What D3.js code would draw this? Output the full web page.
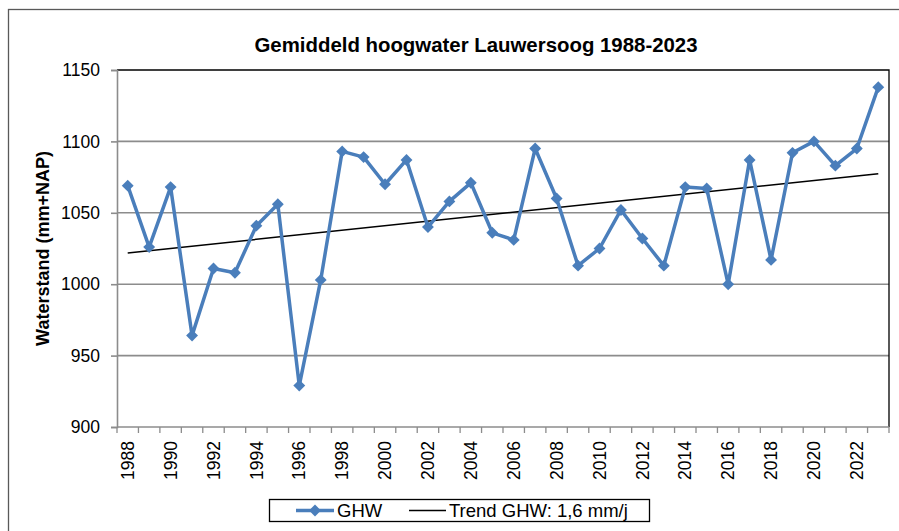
<!DOCTYPE html>
<html>
<head>
<meta charset="utf-8">
<script src="https://cdn.jsdelivr.net/npm/d3@7/dist/d3.min.js"></script>
<style>
  body { margin: 0; background: #fff; }
  svg { display: block; font-family: Arial, "Liberation Sans", sans-serif; }
</style>
</head>
<body>
<div id="chart"></div>
<script>
// gemiddeld hoogwater per jaar, mm t.o.v. NAP
var years = d3.range(1988, 2024);
var ghw = [1069, 1026, 1068, 964, 1011, 1008, 1041, 1056, 929, 1003,
           1093, 1089, 1070, 1087, 1040, 1058, 1071, 1036, 1031, 1095,
           1060, 1013, 1025, 1052, 1032, 1013, 1068, 1067, 1000, 1087,
           1017, 1092, 1100, 1083, 1095, 1138];
var yTicks = [900, 950, 1000, 1050, 1100, 1150];
var xLabels = years.filter(function(y) { return (y - 1988) % 2 === 0; });

var width = 899, height = 531;
var plot = { left: 117, right: 889, top: 70, bottom: 427 };

var svg = d3.select("#chart").append("svg")
  .attr("width", width)
  .attr("height", height);

// chart area border (runs off the picture on the right and bottom)
svg.append("rect")
  .attr("x", 8.5).attr("y", 9.5)
  .attr("width", 1000).attr("height", 600)
  .attr("fill", "none")
  .attr("stroke", "#595959")
  .attr("stroke-width", 1.3);

var x = d3.scaleBand()
  .domain(years)
  .range([plot.left, plot.right]);

var y = d3.scaleLinear()
  .domain([900, 1150])
  .range([plot.bottom, plot.top]);

// gridlines
svg.append("g").selectAll("line")
  .data(yTicks.slice(1, -1))
  .enter().append("line")
  .attr("x1", plot.left).attr("x2", plot.right)
  .attr("y1", function(d) { return y(d); })
  .attr("y2", function(d) { return y(d); })
  .attr("stroke", "#8c8c8c")
  .attr("stroke-width", 1.6);

// plot area frame top/right
svg.append("path")
  .attr("d", "M" + plot.left + "," + y(1150) + "H" + plot.right + "V" + plot.bottom)
  .attr("fill", "none")
  .attr("stroke", "#000")
  .attr("stroke-width", 1.3);

// y axis
var yAxis = svg.append("g")
  .attr("transform", "translate(" + plot.left + ",0)")
  .call(d3.axisLeft(y).tickValues(yTicks).tickFormat(d3.format("d")).tickSize(6).tickPadding(11));
yAxis.select(".domain").attr("stroke", "#8c8c8c").attr("stroke-width", 1.6);
yAxis.selectAll(".tick line").attr("stroke", "#8c8c8c").attr("stroke-width", 1.6);
yAxis.selectAll("text")
  .attr("font-size", "17.5px")
  .attr("fill", "#000");

// x axis: ticks between categories
svg.append("line")
  .attr("x1", plot.left).attr("x2", plot.right)
  .attr("y1", plot.bottom).attr("y2", plot.bottom)
  .attr("stroke", "#8c8c8c")
  .attr("stroke-width", 1.6);

var bounds = years.map(function(d) { return x(d); }).concat([x(years[years.length - 1]) + x.bandwidth()]);
svg.append("g").selectAll("line")
  .data(bounds)
  .enter().append("line")
  .attr("x1", function(d) { return d; })
  .attr("x2", function(d) { return d; })
  .attr("y1", plot.bottom)
  .attr("y2", plot.bottom + 6)
  .attr("stroke", "#8c8c8c")
  .attr("stroke-width", 1.3);

svg.append("g").selectAll("text")
  .data(xLabels)
  .enter().append("text")
  .attr("transform", function(d) {
    return "translate(" + (x(d) + x.bandwidth() / 2) + "," + (plot.bottom + 14) + ") rotate(-90)";
  })
  .attr("text-anchor", "end")
  .attr("dy", "0.35em")
  .attr("font-size", "17.5px")
  .text(function(d) { return d; });

// title + axis title
svg.append("text")
  .attr("x", 476).attr("y", 52)
  .attr("text-anchor", "middle")
  .attr("font-size", "20.4px")
  .attr("font-weight", "bold")
  .text("Gemiddeld hoogwater Lauwersoog 1988-2023");

svg.append("text")
  .attr("transform", "translate(49," + ((plot.top + plot.bottom) / 2) + ") rotate(-90)")
  .attr("text-anchor", "middle")
  .attr("font-size", "18px")
  .attr("font-weight", "bold")
  .text("Waterstand (mm+NAP)");

// least squares trend
var mx = d3.mean(years), my = d3.mean(ghw);
var slope = d3.sum(years, function(d, i) { return (d - mx) * (ghw[i] - my); }) /
            d3.sum(years, function(d) { return (d - mx) * (d - mx); });
var trend = function(yr) { return my + slope * (yr - mx); };
var ends = [years[0], years[years.length - 1]];

var cx = function(d) { return x(d) + x.bandwidth() / 2; };

svg.append("line")
  .attr("x1", cx(ends[0])).attr("y1", y(trend(ends[0])))
  .attr("x2", cx(ends[1])).attr("y2", y(trend(ends[1])))
  .attr("stroke", "#000")
  .attr("stroke-width", 1.5);

// GHW series
var line = d3.line()
  .x(function(d, i) { return cx(years[i]); })
  .y(function(d) { return y(d); });

svg.append("path")
  .datum(ghw)
  .attr("d", line)
  .attr("fill", "none")
  .attr("stroke", "#4a7ebb")
  .attr("stroke-width", 3.5)
  .attr("stroke-linejoin", "round");

var diamond = d3.symbol().type(d3.symbolDiamond2).size(90);

svg.append("g").selectAll("path")
  .data(ghw)
  .enter().append("path")
  .attr("d", diamond)
  .attr("transform", function(d, i) { return "translate(" + cx(years[i]) + "," + y(d) + ")"; })
  .attr("fill", "#4a7ebb");

// legend
var lg = svg.append("g");
lg.append("rect")
  .attr("x", 269.5).attr("y", 499.5)
  .attr("width", 380).attr("height", 22)
  .attr("fill", "#fff")
  .attr("stroke", "#000")
  .attr("stroke-width", 1.3);

lg.append("line")
  .attr("x1", 296).attr("x2", 334)
  .attr("y1", 510.5).attr("y2", 510.5)
  .attr("stroke", "#4a7ebb")
  .attr("stroke-width", 3.5);
lg.append("path")
  .attr("d", diamond)
  .attr("transform", "translate(315,510.5)")
  .attr("fill", "#4a7ebb");
lg.append("text")
  .attr("x", 337).attr("y", 517)
  .attr("font-size", "18.5px")
  .text("GHW");

lg.append("line")
  .attr("x1", 409).attr("x2", 446)
  .attr("y1", 510.5).attr("y2", 510.5)
  .attr("stroke", "#000")
  .attr("stroke-width", 1.5);
lg.append("text")
  .attr("x", 449).attr("y", 517)
  .attr("font-size", "18.5px")
  .text("Trend GHW: 1,6 mm/j");
</script>
</body>
</html>
